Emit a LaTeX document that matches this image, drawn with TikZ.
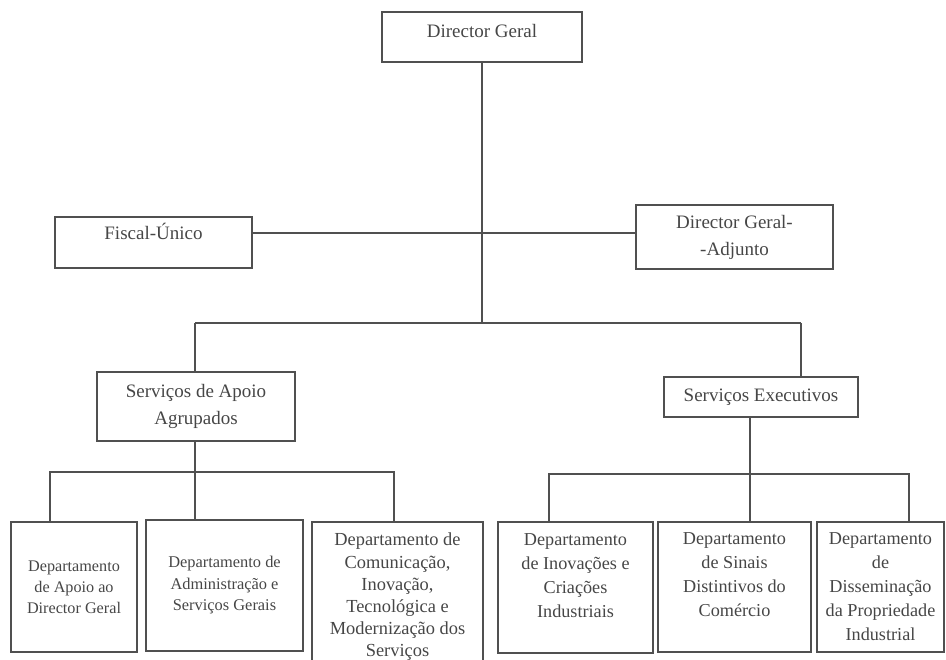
\documentclass[tikz,border=0pt]{standalone}
\usepackage{fontspec}
\setmainfont{Liberation Serif}
\usepackage{tikz}
\usetikzlibrary{positioning,calc}
\definecolor{scanink}{RGB}{70,70,70}
\definecolor{scanline}{RGB}{80,80,80}

\begin{document}
\begin{tikzpicture}[x=0.5pt, y=-0.5pt, every node/.style={text=scanink},
  unit/.style={draw=scanline, line width=0.55pt, align=center, inner sep=1pt, font=\fontsize{9.5}{13.5}\selectfont},
  dept/.style={draw=scanline, line width=0.55pt, align=center, inner sep=1pt},
  link/.style={draw=scanline, line width=0.55pt}]
\useasboundingbox (0,0) rectangle (946,659);
% direccao
\node[unit, minimum width=100pt, minimum height=25pt, text depth=6.5pt] (dg) at (482,37) {Director Geral};
\node[unit, minimum width=98.5pt, minimum height=25.5pt, text depth=11pt] (fiscal) at (153.5,242.5) {Fiscal-Único};
\node[unit, minimum width=98.5pt, minimum height=32pt] (adj) at (734.5,237) {Director Geral-\\-Adjunto};
% servicos
\node[unit, minimum width=99pt, minimum height=34.5pt] (apoio) at (196,406.5) {Serviços de Apoio\\Agrupados};
\node[unit, minimum width=97pt, minimum height=20pt] (exec) at (761,397) {Serviços Executivos};
% departamentos
\node[dept, minimum width=63pt, minimum height=65pt, font=\fontsize{8.1}{10.5}\selectfont] (d1) at (74,587) {Departamento\\de Apoio ao\\Director Geral};
\node[dept, minimum width=78.5pt, minimum height=65.5pt, font=\fontsize{8.2}{10.75}\selectfont] (d2) at (224.5,585.5) {Departamento de\\Administração e\\Serviços Gerais};
\node[dept, minimum width=85.5pt, minimum height=75pt, font=\fontsize{9.2}{11.1}\selectfont] (d3) at (397.5,597) {Departamento de\\Comunicação,\\Inovação,\\Tecnológica e\\Modernização dos\\Serviços};
\node[dept, minimum width=77.5pt, minimum height=65.5pt, font=\fontsize{9.1}{12}\selectfont] (d4) at (575.5,587.5) {Departamento\\de Inovações e\\Criações\\Industriais\\\mbox{}};
\node[dept, minimum width=76.5pt, minimum height=65pt, font=\fontsize{9.1}{12}\selectfont] (d5) at (734.5,587) {Departamento\\de Sinais\\Distintivos do\\Comércio\\\mbox{}};
\node[dept, minimum width=63.5pt, minimum height=65pt, font=\fontsize{9.1}{12}\selectfont] (d6) at (880.5,587) {Departamento\\de\\Disseminação\\da Propriedade\\Industrial};
% ligacoes
\coordinate (hub) at (482,233);
\coordinate (barL) at (195,323);
\coordinate (barR) at (801,323);
\coordinate (subL) at (195,472);
\coordinate (subR) at (750,474);
\draw[link] (dg) -- (dg.south |- barL);
\draw[link] (fiscal.east |- hub) -- (adj.west |- hub);
\draw[link] (barL) -- (barR);
\draw[link] (barL) -- (barL |- apoio.north);
\draw[link] (barR) -- (barR |- exec.north);
\draw[link] (subL |- apoio.south) -- (subL |- d2.north);
\draw[link] (subR |- exec.south) -- (subR |- d5.north);
\coordinate (a1) at (50,472);
\coordinate (a3) at (394,472);
\coordinate (b4) at (549,474);
\coordinate (b6) at (909,474);
\draw[link] (a1 |- d1.north) -- (a1) -- (a3) -- (a3 |- d3.north);
\draw[link] (b4 |- d4.north) -- (b4) -- (b6) -- (b6 |- d6.north);
\end{tikzpicture}
\end{document}
